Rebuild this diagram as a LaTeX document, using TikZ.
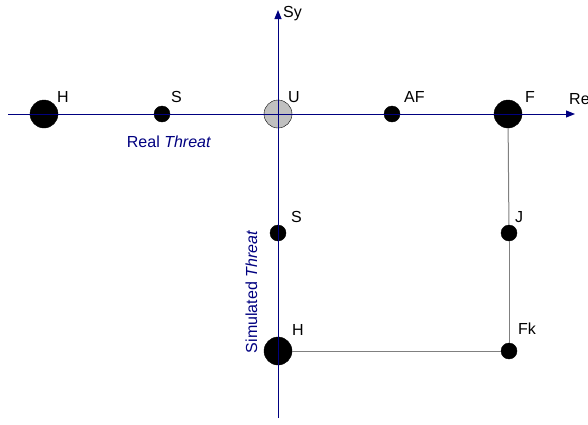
\documentclass[tikz,border=0pt]{standalone}
\usepackage{fontspec}
\setmainfont{Liberation Sans}
\usetikzlibrary{arrows.meta}
\definecolor{axisblue}{RGB}{0,0,128}
\definecolor{linegray}{RGB}{128,128,128}
\definecolor{ufill}{RGB}{192,192,192}
\begin{document}
\begin{tikzpicture}[x=1pt,y=-1pt,
  big/.style={circle,fill=black,draw=black,minimum size=28pt,inner sep=0pt},
  small/.style={circle,fill=black,draw=black,minimum size=16pt,inner sep=0pt},
  lbl/.style={anchor=base west,font=\fontsize{16}{19}\selectfont,inner sep=0pt},
  captext/.style={font=\fontsize{16}{19}\selectfont,text=axisblue,inner sep=0pt},
  axisline/.style={draw=axisblue,line width=1pt,-{Triangle[length=9pt,width=7pt]}},
  conn/.style={draw=linegray,line width=1pt}]
\useasboundingbox (0,0) rectangle (588,424);
% circles
\node[big] (H1) at (44,114) {};
\node[small] (S1) at (162,114) {};
\node[big,fill=ufill] (U) at (278,114) {};
\node[small] (AF) at (392,114) {};
\node[big] (F) at (508,114) {};
\node[small] (S2) at (278,233) {};
\node[big] (H2) at (278,351) {};
\node[small] (J) at (509,233) {};
\node[small] (Fk) at (509,351) {};
% gray connectors
\draw[conn] (F) -- (J);
\draw[conn] (J) -- (Fk);
\draw[conn] (Fk) -- (H2);
% axes
\coordinate (xl) at (8,114);
\coordinate (xr) at (575,114);
\coordinate (yb) at (278,418);
\coordinate (yt) at (278,10);
\draw[axisline] (xl) -- (xr);
\draw[axisline] (yb) -- (yt);
% labels
\node[lbl] (lH1) at (57,102) {H};
\node[lbl] (lS1) at (171,102) {S};
\node[lbl] (lU) at (288,102) {U};
\node[lbl] (lAF) at (404,102) {AF};
\node[lbl] (lF) at (525,102) {F};
\node[lbl] (lS2) at (291,222) {S};
\node[lbl] (lH2) at (292,335) {H};
\node[lbl] (lJ) at (515,222) {J};
\node[lbl] (lFk) at (518,334) {Fk};
\node[lbl] (lRe) at (569,104) {Re};
\node[lbl] (lSy) at (283,17) {Sy};
\node[captext,anchor=base] (rt) at (169,147) {Real \textit{Threat}};
\node[captext,anchor=base,rotate=90] (st) at (257,292) {Simulated \textit{Threat}};
\end{tikzpicture}
\end{document}
